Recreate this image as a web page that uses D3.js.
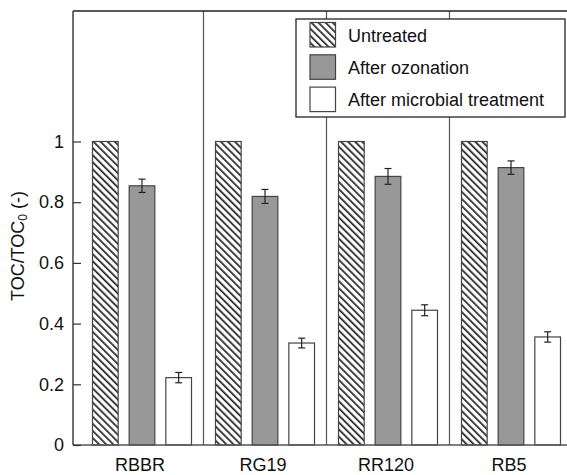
<!DOCTYPE html>
<html>
<head>
    <meta charset="utf-8">
    <script src="https://cdnjs.cloudflare.com/ajax/libs/d3/7.8.5/d3.min.js"></script>
    <title>TOC/TOC0</title>
    <style>
    body { margin: 0; background: #fff; }
    text { font-family: "Liberation Sans", Arial, sans-serif; fill: #111; }
    </style>
</head>
<body>
<div id="container"></div>
<script>
// Data
var categories = ["RBBR", "RG19", "RR120", "RB5"];
var seriesNames = ["Untreated", "After ozonation", "After microbial treatment"];
var untreated = [1, 1, 1, 1];
var ozonation = [0.854, 0.819, 0.885, 0.914];
var ozonationErr = [0.022, 0.023, 0.026, 0.022];
var microbial = [0.222, 0.336, 0.444, 0.356];
var microbialErr = [0.017, 0.016, 0.018, 0.017];
var yTicks = [0, 0.2, 0.4, 0.6, 0.8, 1];

var w = 567, h = 475;
var plotLeft = 73, plotTop = 11, plotBottom = 445, plotRight = 575;

var svg = d3.select("#container").append("svg")
    .attr("width", w)
    .attr("height", h);

// hatch pattern
var pat = svg.append("defs").append("pattern")
    .attr("id", "hatch")
    .attr("patternUnits", "userSpaceOnUse")
    .attr("width", 5).attr("height", 5)
    .attr("patternTransform", "rotate(-45)");
pat.append("rect").attr("width", 5).attr("height", 5).attr("fill", "#fff");
pat.append("line")
    .attr("x1", 0).attr("y1", 0).attr("x2", 0).attr("y2", 5)
    .attr("stroke", "#222").attr("stroke-width", 3.4);

var y = d3.scaleLinear().domain([0, 1.43]).range([plotBottom, plotTop]);
var x = d3.scaleBand().domain(categories).range([80.5, 572.5]);
var xs = d3.scaleBand().domain(seriesNames).range([12, 111]).paddingInner(0.3);

// rows: one per category and series
var rows = [];
categories.forEach(function(c, i) {
    rows.push({cat: c, s: seriesNames[0], v: untreated[i], e: 0});
    rows.push({cat: c, s: seriesNames[1], v: ozonation[i], e: ozonationErr[i]});
    rows.push({cat: c, s: seriesNames[2], v: microbial[i], e: microbialErr[i]});
});

function fillFor(s) {
    if (s == seriesNames[0]) return "url(#hatch)";
    if (s == seriesNames[1]) return "#989898";
    return "#fff";
}

// group dividers
svg.selectAll("line.divider")
    .data(categories.slice(1))
    .enter().append("line")
    .attr("class", "divider")
    .attr("x1", function(d) { return x(d); })
    .attr("x2", function(d) { return x(d); })
    .attr("y1", plotTop).attr("y2", plotBottom)
    .attr("stroke", "#555").attr("stroke-width", 1.2);

// bars
svg.selectAll("rect.bar")
    .data(rows)
    .enter().append("rect")
    .attr("class", "bar")
    .attr("x", function(d) { return x(d.cat) + xs(d.s); })
    .attr("y", function(d) { return y(d.v); })
    .attr("width", xs.bandwidth())
    .attr("height", function(d) { return y(0) - y(d.v); })
    .attr("fill", function(d) { return fillFor(d.s); })
    .attr("stroke", "#444").attr("stroke-width", 1.2);

// error bars
var errRows = rows.filter(function(d) { return d.e > 0; });
var eb = svg.selectAll("g.err").data(errRows).enter().append("g")
    .attr("class", "err")
    .attr("stroke", "#222").attr("stroke-width", 1.2);
function cx(d) { return x(d.cat) + xs(d.s) + xs.bandwidth() / 2; }
eb.append("line")
    .attr("x1", cx).attr("x2", cx)
    .attr("y1", function(d) { return y(d.v + d.e); })
    .attr("y2", function(d) { return y(d.v - d.e); });
eb.append("line")
    .attr("x1", function(d) { return cx(d) - 3.5; })
    .attr("x2", function(d) { return cx(d) + 3.5; })
    .attr("y1", function(d) { return y(d.v + d.e); })
    .attr("y2", function(d) { return y(d.v + d.e); });
eb.append("line")
    .attr("x1", function(d) { return cx(d) - 3.5; })
    .attr("x2", function(d) { return cx(d) + 3.5; })
    .attr("y1", function(d) { return y(d.v - d.e); })
    .attr("y2", function(d) { return y(d.v - d.e); });

// frame: top and bottom lines
svg.append("line").attr("x1", plotLeft).attr("x2", plotRight).attr("y1", plotTop).attr("y2", plotTop)
    .attr("stroke", "#222").attr("stroke-width", 1.4);
svg.append("line").attr("x1", plotLeft).attr("x2", plotRight).attr("y1", plotBottom).attr("y2", plotBottom)
    .attr("stroke", "#555").attr("stroke-width", 1.4);

// y axis
var yAxis = d3.axisLeft(y).tickValues(yTicks)
    .tickFormat(function(d) { return String(+d.toFixed(1)); })
    .tickSizeInner(-8).tickSizeOuter(0).tickPadding(9);
var ga = svg.append("g").attr("transform", "translate(" + plotLeft + ",0)").call(yAxis);
ga.select(".domain").attr("stroke", "#333").attr("stroke-width", 1.4)
    .attr("d", "M0," + plotTop + "V" + plotBottom);
ga.selectAll(".tick line").attr("stroke", "#333").attr("stroke-width", 1.2);
ga.selectAll(".tick text").style("font-size", "18px")
    .style("font-family", "'Liberation Sans', Arial, sans-serif").attr("fill", "#111");

// x labels
svg.selectAll("text.xlab")
    .data(categories)
    .enter().append("text")
    .attr("class", "xlab")
    .attr("x", function(d) { return x(d) + x.bandwidth() / 2 - 2; })
    .attr("y", 471)
    .attr("text-anchor", "middle")
    .style("font-size", "18px")
    .text(function(d) { return d; });

// y title
var yt = svg.append("text")
    .attr("transform", "translate(24,246) rotate(-90)")
    .attr("text-anchor", "middle")
    .style("font-size", "18px");
yt.append("tspan").text("TOC/TOC");
yt.append("tspan").attr("dy", 3).style("font-size", "12px").text("0");
yt.append("tspan").attr("dy", -3).text(" (-)");

// legend
var lg = svg.append("g");
lg.append("rect")
    .attr("x", 296).attr("y", 19)
    .attr("width", 269).attr("height", 98)
    .attr("fill", "#fff").attr("stroke", "#333").attr("stroke-width", 1.4);
var items = lg.selectAll("g.item").data(seriesNames).enter().append("g")
    .attr("class", "item")
    .attr("transform", function(d, i) { return "translate(310," + (22.5 + i * 32.3) + ")"; });
items.append("rect")
    .attr("width", 25.5).attr("height", 24.5)
    .attr("fill", function(d) { return fillFor(d); })
    .attr("stroke", "#444").attr("stroke-width", 1.2);
items.append("text")
    .attr("x", 38).attr("y", 19)
    .style("font-size", "18px")
    .text(function(d) { return d; });
</script>
</body>
</html>
